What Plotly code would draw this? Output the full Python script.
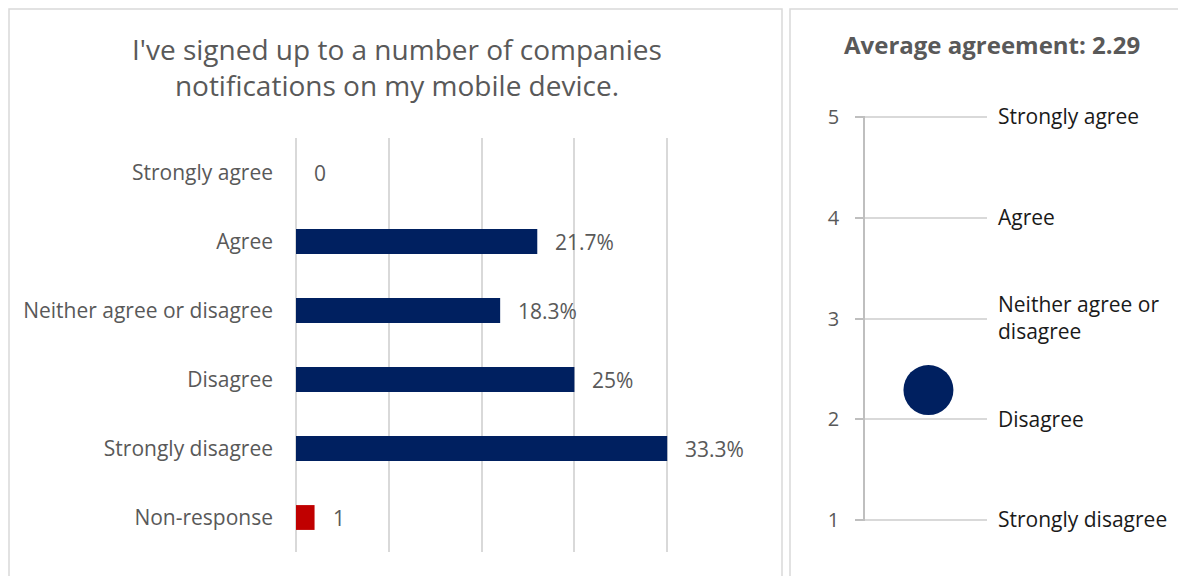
import plotly.graph_objects as go

W, H = 1186, 576
OFF = 8  # page body margin offset in the browser

categories = ["Strongly agree", "Agree", "Neither agree or disagree",
              "Disagree", "Strongly disagree", "Non-response"]
counts = [0, 13, 11, 15, 20, 1]
bar_labels = ["0", "21.7%", "18.3%", "25%", "33.3%", "1"]
bar_colors = ["#002060", "#002060", "#002060", "#002060", "#002060", "#C00000"]

title_left = "I've signed up to a number of companies<br>notifications on my mobile device."
title_right = "Average agreement: 2.29"
average = 2.29
scale_values = [1, 2, 3, 4, 5]
scale_labels = ["Strongly disagree", "Disagree", "Neither agree or<br>disagree",
                "Agree", "Strongly agree"]

def px(x):
    return (x - OFF) / W

def py(y):
    return 1 - (y - OFF) / H

GRAY = "#595959"
GRID = "#D9D9D9"
FONT = "Open Sans"

fig = go.Figure()

fig.add_trace(go.Bar(
    x=counts, y=categories, orientation="h",
    marker=dict(color=bar_colors, line=dict(width=0)),
    width=0.36, xaxis="x", yaxis="y", hoverinfo="skip", showlegend=False,
))

for c, v, lab in zip(categories, counts, bar_labels):
    fig.add_annotation(x=v, y=c, xref="x", yref="y", text=lab, showarrow=False,
                       xanchor="left", xshift=16, font=dict(size=21, color=GRAY, family=FONT))

fig.add_trace(go.Scatter(
    x=[0.52], y=[average], mode="markers",
    marker=dict(size=50, color="#002060", line=dict(width=0)),
    xaxis="x2", yaxis="y2", hoverinfo="skip", showlegend=False,
))
fig.add_trace(go.Scatter(
    x=[0.52], y=[average], mode="markers", marker=dict(opacity=0),
    xaxis="x2", yaxis="y3", hoverinfo="skip", showlegend=False,
))

fig.update_layout(
    width=W, height=H,
    margin=dict(l=0, r=0, t=0, b=0, pad=0, autoexpand=False),
    paper_bgcolor="white", plot_bgcolor="white",
    font=dict(family=FONT, color=GRAY),
    xaxis=dict(domain=[px(296), px(760)], range=[0, 25], dtick=5,
               showgrid=True, gridcolor=GRID, gridwidth=1.5,
               zeroline=True, zerolinecolor=GRID, zerolinewidth=1.5,
               showticklabels=False, showline=False, fixedrange=True, automargin=False),
    yaxis=dict(domain=[py(552), py(138)], autorange="reversed",
               showgrid=False, zeroline=False, showline=False,
               ticks="", ticklabelstandoff=22, automargin=False,
               tickfont=dict(size=21, color=GRAY, family=FONT), fixedrange=True),
    xaxis2=dict(domain=[px(865), px(987)], range=[0, 1], showgrid=False, automargin=False,
                zeroline=False, showticklabels=False, showline=False, fixedrange=True),
    yaxis2=dict(domain=[py(521), py(116)], range=[0.99, 5.01], anchor="x2", automargin=False,
                tickvals=scale_values, ticktext=[str(v) for v in scale_values],
                showgrid=True, gridcolor=GRID, gridwidth=1.5,
                zeroline=False, showline=True, linecolor="#BFBFBF", linewidth=1.5,
                ticks="outside", ticklen=8, tickcolor="#BFBFBF", tickwidth=1.5,
                ticklabelstandoff=12,
                tickfont=dict(size=20, color=GRAY, family=FONT), fixedrange=True),
    yaxis3=dict(overlaying="y2", side="right", anchor="x2", range=[0.99, 5.01], automargin=False,
                tickvals=scale_values, ticktext=scale_labels,
                showgrid=False, zeroline=False, showline=False, ticks="",
                ticklabelstandoff=10,
                tickfont=dict(size=21, color="#1a1a1a", family=FONT), fixedrange=True),
)

fig.add_annotation(x=px(397), y=py(67), xref="paper", yref="paper",
                   text=title_left, showarrow=False, xanchor="center", yanchor="middle",
                   font=dict(size=28, color=GRAY, family=FONT))
fig.add_annotation(x=px(992), y=py(44), xref="paper", yref="paper",
                   text="<b>" + title_right + "</b>", showarrow=False,
                   xanchor="center", yanchor="middle",
                   font=dict(size=24, color=GRAY, family=FONT))

fig.add_shape(type="rect", xref="paper", yref="paper",
              x0=px(9), x1=px(782), y0=py(600), y1=py(9),
              line=dict(color=GRID, width=1.5), layer="below")
fig.add_shape(type="rect", xref="paper", yref="paper",
              x0=px(790), x1=px(1210), y0=py(600), y1=py(9),
              line=dict(color=GRID, width=1.5), layer="below")

fig.write_html("out.html")
